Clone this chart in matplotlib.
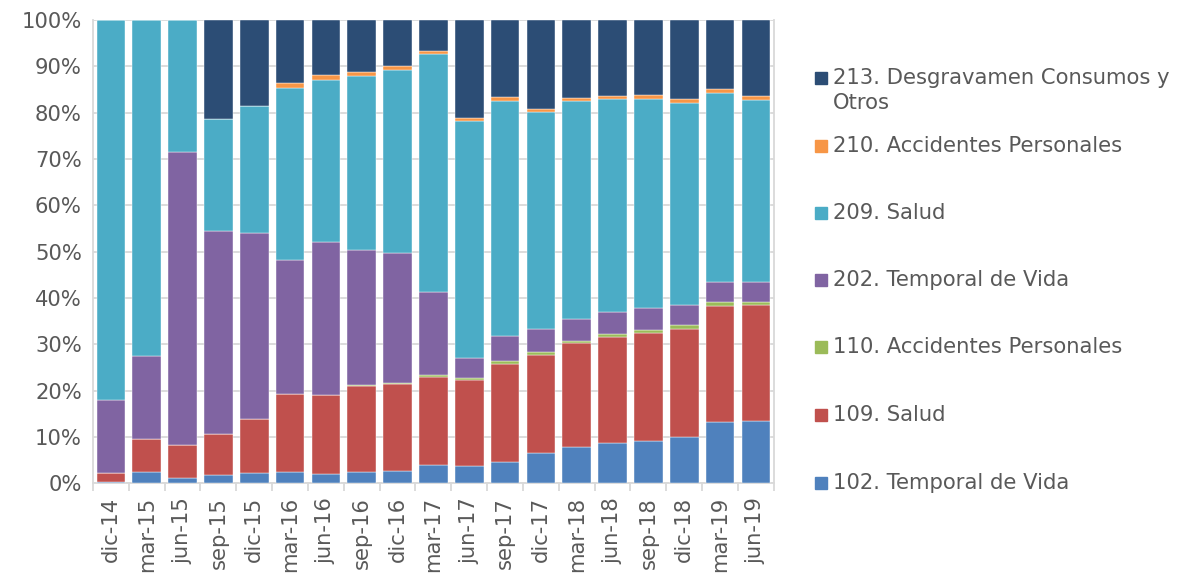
"""Estructura de primas por ramo (100% apilado)."""
import numpy as np
import matplotlib
matplotlib.use("Agg")
import matplotlib.pyplot as plt
from matplotlib.patches import Rectangle

periods = ["dic-14", "mar-15", "jun-15", "sep-15", "dic-15", "mar-16", "jun-16",
           "sep-16", "dic-16", "mar-17", "jun-17", "sep-17", "dic-17", "mar-18",
           "jun-18", "sep-18", "dic-18", "mar-19", "jun-19"]

# shares in %, bottom to top
s102 = [0.2, 2.5, 1.2, 1.7, 2.2, 2.5, 2.0, 2.5, 2.7, 3.9, 3.7, 4.5, 6.6, 7.8, 8.6, 9.1, 9.9, 13.2, 13.4]
s109 = [2.0, 7.1, 7.0, 8.9, 11.6, 16.7, 17.0, 18.6, 18.8, 19.1, 18.6, 21.3, 21.2, 22.4, 22.9, 23.4, 23.5, 25.1, 25.1]
s110 = [0.0, 0.0, 0.0, 0.0, 0.0, 0.1, 0.1, 0.1, 0.1, 0.3, 0.4, 0.6, 0.5, 0.6, 0.7, 0.6, 0.7, 0.8, 0.7]
s202 = [15.8, 17.9, 63.3, 43.8, 40.3, 28.9, 33.1, 29.3, 28.1, 17.9, 4.4, 5.3, 5.1, 4.7, 4.7, 4.7, 4.5, 4.4, 4.2]
s209 = [82.0, 72.5, 28.5, 24.2, 27.3, 37.3, 35.0, 37.6, 39.7, 51.6, 51.2, 50.9, 46.8, 47.1, 46.0, 45.2, 43.6, 40.8, 39.4]
s210 = [0.0, 0.0, 0.0, 0.0, 0.0, 1.0, 1.0, 0.8, 0.7, 0.6, 0.5, 0.8, 0.6, 0.6, 0.7, 0.8, 0.8, 0.9, 0.9]
s213 = [0.0, 0.0, 0.0, 21.4, 18.6, 13.6, 11.9, 11.2, 10.0, 6.6, 21.2, 16.6, 19.2, 16.8, 16.4, 16.2, 17.0, 14.8, 16.3]

series = [
    ("102. Temporal de Vida", s102, "#4F81BD"),
    ("109. Salud", s109, "#C0504D"),
    ("110. Accidentes Personales", s110, "#9BBB59"),
    ("202. Temporal de Vida", s202, "#8064A2"),
    ("209. Salud", s209, "#4BACC6"),
    ("210. Accidentes Personales", s210, "#F79646"),
    ("213. Desgravamen Consumos y\nOtros", s213, "#2C4D75"),
]

TXT = "#595959"
GRID = "#D9D9D9"
FS = 15.2

fig = plt.figure(figsize=(11.81, 5.76), dpi=100)
ax = fig.add_axes([0.0787, 0.161, 0.5765, 0.804])

x = np.arange(len(periods))
tot = np.sum([s for _, s, _ in series], axis=0)
bottom = np.zeros(len(periods))
for name, vals, col in series:
    v = np.array(vals) / tot
    ax.bar(x, v, 0.8, bottom=bottom, color=col, edgecolor="white", linewidth=0.3, zorder=3)
    bottom += v

ax.set_xlim(-0.5, len(periods) - 0.5)
ax.set_ylim(0, 1)
ax.set_yticks(np.arange(0, 1.01, 0.1))
ax.set_yticklabels([f"{int(round(t*100))}%" for t in np.arange(0, 1.01, 0.1)])
ax.yaxis.grid(True, color=GRID, lw=1.3, zorder=0)
ax.tick_params(axis="y", length=0, pad=8, labelsize=FS, labelcolor=TXT)

ax.set_xticks(x)
ax.set_xticklabels(periods, rotation=90)
ax.set_xticks(np.arange(-0.5, len(periods)), minor=True)
ax.tick_params(axis="x", which="major", length=0, pad=10, labelsize=FS, labelcolor=TXT)
ax.tick_params(axis="x", which="minor", length=6, color=GRID, width=1.3)

ax.spines["top"].set_visible(False)
for side in ("left", "right", "bottom"):
    ax.spines[side].set_color(GRID)
    ax.spines[side].set_linewidth(1.3)

# legend, reversed order, laid out like the Excel legend
leg_y = [78, 146, 213, 280, 347, 415, 483]
for (name, _, col), yy in zip(series[::-1], leg_y):
    yf = 1 - yy / 576
    fig.patches.append(Rectangle((815 / 1181, yf - 6 / 576), 12 / 1181, 12 / 576,
                                 transform=fig.transFigure, color=col))
    if "\n" in name:
        fig.text(833 / 1181, 1 - (yy - 10) / 576, name, fontsize=FS, color=TXT,
                 va="top", linespacing=1.3)
    else:
        fig.text(833 / 1181, yf, name, fontsize=FS, color=TXT, va="center")

fig.savefig("out.png", dpi=100)
